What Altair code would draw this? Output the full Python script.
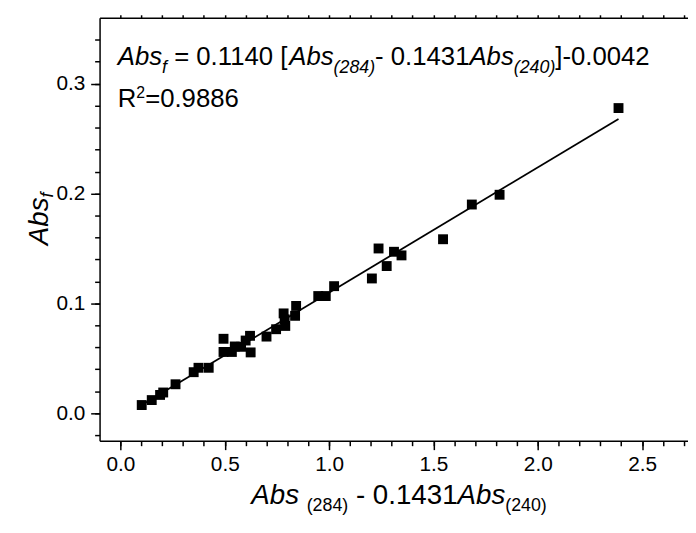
import altair as alt
import pandas as pd

# ---------------- data ----------------
x_vals = [0.102, 0.150, 0.190, 0.205, 0.264, 0.351, 0.374, 0.423, 0.494, 0.494,
          0.534, 0.548, 0.578, 0.600, 0.621, 0.624, 0.700, 0.746, 0.782, 0.787,
          0.790, 0.842, 0.837, 0.948, 0.984, 1.024, 1.205, 1.237, 1.276, 1.311,
          1.347, 1.546, 1.684, 1.817, 2.387]
y_vals = [0.0075, 0.0120, 0.0167, 0.0189, 0.0264, 0.0374, 0.0414, 0.0414, 0.0678, 0.0558,
          0.0558, 0.0608, 0.0605, 0.0662, 0.0705, 0.0554, 0.0698, 0.0765, 0.0909, 0.0855,
          0.0795, 0.0977, 0.0887, 0.1067, 0.1067, 0.1157, 0.1227, 0.1500, 0.1340, 0.1470,
          0.1437, 0.1584, 0.1900, 0.1989, 0.2778]
slope = 0.1140
intercept = -0.0042

x_major = [0.0, 0.5, 1.0, 1.5, 2.0, 2.5]
x_minor = [round(0.1 * i, 2) for i in range(0, 28)]
y_major = [0.0, 0.1, 0.2, 0.3]
y_minor = [round(-0.02 + 0.02 * i, 2) for i in range(0, 19)]

pts = pd.DataFrame({"x": x_vals, "y": y_vals})
fit_x = [min(x_vals), max(x_vals)]
fit = pd.DataFrame({"x": fit_x, "y": [slope * v + intercept for v in fit_x]})

# ---------------- layout ----------------
FONT = "Liberation Sans"
PAD_L, PAD_T = 92.6, 7
OX, OY = 8 + PAD_L, 8 + PAD_T      # plot origin in page coordinates
W_PLOT, H_PLOT = 595, 427.7

xscale = alt.Scale(domain=[-0.1, 2.72], nice=False, zero=False)
yscale = alt.Scale(domain=[-0.025, 0.36], nice=False, zero=False)

ax_common = dict(title=None, grid=False, domainColor="black", domainWidth=1.5,
                 tickColor="black", tickWidth=1.5, labelColor="black",
                 labelFont=FONT, labelFontSize=21, labelFlush=False, labelOverlap=False)

x_axis_major = alt.Axis(orient="bottom", values=x_major, format=".1f", tickSize=9,
                        labelPadding=4, **ax_common)
y_axis_major = alt.Axis(orient="left", values=y_major, format=".1f", tickSize=9,
                        labelPadding=6, **ax_common)
x_axis_minor = alt.Axis(orient="bottom", values=x_minor, tickSize=5, labels=False,
                        domain=False, **ax_common)
y_axis_minor = alt.Axis(orient="left", values=y_minor, tickSize=5, labels=False,
                        domain=False, **ax_common)
x_axis_top = alt.Axis(orient="top", values=x_minor, tickSize=3, labels=False, **ax_common)

points = alt.Chart(pts).mark_square(size=100, color="black", opacity=1).encode(
    x=alt.X("x:Q", scale=xscale, axis=x_axis_major),
    y=alt.Y("y:Q", scale=yscale, axis=y_axis_major),
)
line = alt.Chart(fit).mark_line(color="black", strokeWidth=1.8).encode(
    x=alt.X("x:Q", scale=xscale, axis=x_axis_minor),
    y=alt.Y("y:Q", scale=yscale, axis=y_axis_minor),
)
top_frame = alt.Chart(fit).mark_line(opacity=0).encode(
    x=alt.X("x:Q", scale=xscale, axis=x_axis_top),
    y=alt.Y("y:Q", scale=yscale, axis=None),
)

# ---------------- rich text (sub/superscripts) ----------------
WID = {' ': 278, '=': 584, '.': 278, '[': 278, ']': 278, '-': 333, '(': 333, ')': 333,
       'A': 667, 'b': 556, 's': 500, 'f': 278, 'R': 722}
for d in "0123456789":
    WID[d] = 556


def tw(s, fs):
    return sum(WID[c] for c in s) / 1000.0 * fs


def txt(s, px, py, fs, italic=False, angle=0):
    return alt.Chart(alt.Data(values=[{}])).mark_text(
        text=s, fontSize=fs, font=FONT, fontStyle="italic" if italic else "normal",
        align="left", baseline="alphabetic", angle=angle, color="black",
    ).encode(x=alt.value(px - OX), y=alt.value(py - OY))


def run(segs, x0, y0):
    out, x = [], x0
    for s, fs, it, dy in segs:
        lead = len(s) - len(s.lstrip(" "))
        x += tw(" " * lead, fs)
        body = s.strip(" ")
        if body:
            out.append(txt(body, x, y0 + dy, fs, it))
        x += tw(s.lstrip(" "), fs)
    return out


eq_segs = [("Abs", 26, True, 0), ("f", 18, True, 8), (" = 0.1140 [", 26, False, 0),
           ("Abs", 26, True, 0), ("(284)", 18, True, 8), ("- 0.1431", 26, False, 0),
           ("Abs", 26, True, 0), ("(240)", 18, True, 8), ("]-0.0042", 26, False, 0)]
r2_segs = [("R", 26, False, 0), ("2", 16, False, -9), ("=0.9886", 26, False, 0)]
xt_segs = [("Abs", 28, True, 0), (" ", 28, False, 0), ("(284)", 18, False, 7),
           (" - 0.1431", 28, False, 0), ("Abs", 28, True, 0), ("(240)", 18, False, 7)]

texts = []
texts += run(eq_segs, 119, 63)
texts += run(r2_segs, 119, 105)
texts += run(xt_segs, 254, 507)
# rotated y title
yt_x, yt_y = 48, 245
texts.append(txt("Abs", yt_x, yt_y, 28, True, angle=270))
texts.append(txt("f", yt_x + 6, yt_y - tw("Abs", 28), 18, True, angle=270))

chart = alt.layer(points, line, top_frame, *texts).resolve_axis(
    x="independent", y="independent"
).properties(
    width=W_PLOT, height=H_PLOT,
    autosize=alt.AutoSizeParams(type="none"),
    padding={"left": PAD_L, "top": PAD_T, "right": 0, "bottom": 80},
    background="white",
).configure_view(stroke=None)

chart.save("out.html", embed_options={"renderer": "svg", "actions": False})
